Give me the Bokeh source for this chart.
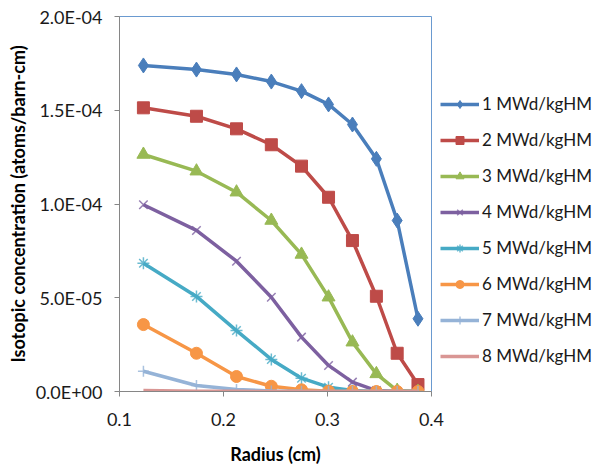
from bokeh.plotting import figure
from bokeh.models import FixedTicker, CustomJSTickFormatter, Legend, LegendItem, Range1d
from bokeh.embed import file_html
from bokeh.resources import INLINE

radius = [0.123, 0.174, 0.2125, 0.246, 0.275, 0.301, 0.324, 0.347, 0.367, 0.387]

s1 = [1.739e-4, 1.717e-4, 1.691e-4, 1.653e-4, 1.602e-4, 1.531e-4, 1.424e-4, 1.241e-4, 0.912e-4, 0.388e-4]
s2 = [1.513e-4, 1.468e-4, 1.401e-4, 1.316e-4, 1.202e-4, 1.036e-4, 0.805e-4, 0.508e-4, 0.204e-4, 0.037e-4]
s3 = [1.264e-4, 1.175e-4, 1.063e-4, 0.912e-4, 0.731e-4, 0.503e-4, 0.263e-4, 0.094e-4, 0.005e-4, 0.0]
s4 = [0.996e-4, 0.859e-4, 0.695e-4, 0.503e-4, 0.290e-4, 0.139e-4, 0.050e-4, 0.005e-4, 0.0, 0.0]
s5 = [0.684e-4, 0.507e-4, 0.325e-4, 0.171e-4, 0.071e-4, 0.023e-4, 0.005e-4, 0.0, 0.0, 0.0]
s6 = [0.357e-4, 0.204e-4, 0.080e-4, 0.028e-4, 0.009e-4, 0.002e-4, 0.0, 0.0, 0.0, 0.0]
s7 = [0.108e-4, 0.032e-4, 0.011e-4, 0.003e-4, 0.001e-4, 0.0, 0.0, 0.0, 0.0, 0.0]
s8 = [0.006e-4, 0.002e-4, 0.001e-4, 0.0, 0.0, 0.0, 0.0, 0.0, 0.0, 0.0]

labels = ["1 MWd/kgHM", "2 MWd/kgHM", "3 MWd/kgHM", "4 MWd/kgHM",
          "5 MWd/kgHM", "6 MWd/kgHM", "7 MWd/kgHM", "8 MWd/kgHM"]
series = [s1, s2, s3, s4, s5, s6, s7, s8]
colors = ["#4A7EBB", "#BE4B48", "#98B954", "#7D60A0", "#46AAC5", "#F79646", "#95B3D7", "#D99694"]
markers = ["diamond", "square", "triangle", "x", "asterisk", "circle", "cross", None]
msizes = [15, 12, 13, 12, 12, 12, 11, 0]

y_ticks = [0.0, 5e-5, 1e-4, 1.5e-4, 2e-4]
x_ticks = [0.1, 0.2, 0.3, 0.4]

FONT = "Lato"

p = figure(frame_width=312, frame_height=375, output_backend="svg", toolbar_location=None,
           x_range=Range1d(0.1, 0.4), y_range=Range1d(0, 2e-4),
           min_border_left=119, min_border_right=170, min_border_top=16, min_border_bottom=70)
p.xgrid.visible = False
p.ygrid.visible = False
p.outline_line_color = "#6A9AD0"
p.outline_line_width = 1
p.background_fill_color = "white"
p.border_fill_color = "white"

items = []
for ys, c, m, ms, lab in zip(series, colors, markers, msizes, labels):
    rs = []
    r = p.line(radius, ys, line_color=c, line_width=3.5)
    rs.append(r)
    if m is not None:
        if m in ("x", "asterisk", "cross"):
            sr = p.scatter(radius, ys, marker=m, size=ms, line_color=c, line_width=1.5,
                           line_alpha=0.8, fill_color=c)
        else:
            sr = p.scatter(radius, ys, marker=m, size=ms, line_color=c, fill_color=c, line_width=1)
        rs.append(sr)
    items.append(LegendItem(label=lab, renderers=rs))

fmt = CustomJSTickFormatter(code="""
let s = tick.toExponential(1);
let parts = s.split('e');
let e = parts[1];
let sign = e[0];
let d = e.slice(1);
if (d.length < 2) { d = '0' + d; }
return parts[0] + 'E' + sign + d;
""")

for ax in (p.xaxis[0], p.yaxis[0]):
    ax.axis_line_color = "#868686"
    ax.major_tick_line_color = "#868686"
    ax.minor_tick_line_color = None
    ax.major_tick_in = 0
    ax.major_tick_out = 5
    ax.major_label_text_font = FONT
    ax.major_label_text_font_size = "18px"
    ax.major_label_text_color = "#1a1a1a"
    ax.axis_label_text_font = FONT
    ax.axis_label_text_font_size = "18px"
    ax.axis_label_text_font_style = "bold"
    ax.axis_label_text_color = "#000000"

p.yaxis[0].ticker = FixedTicker(ticks=y_ticks)
p.yaxis[0].formatter = fmt
p.yaxis[0].axis_label = "Isotopic concentration (atoms/barn-cm)"
p.yaxis[0].major_label_standoff = 12
p.yaxis[0].axis_label_standoff = 4

p.xaxis[0].ticker = FixedTicker(ticks=x_ticks)
p.xaxis[0].axis_label = "Radius (cm)"
p.xaxis[0].major_label_standoff = 16
p.xaxis[0].axis_label_standoff = 14

legend = Legend(items=items, location=(9, 25), orientation="vertical")
legend.glyph_width = 39
legend.glyph_height = 20
legend.label_height = 20
legend.spacing = 15
legend.label_standoff = 3
legend.padding = 0
legend.margin = 0
legend.border_line_alpha = 0
legend.background_fill_alpha = 0
legend.label_text_font = FONT
legend.label_text_font_size = "17px"
legend.label_text_color = "#1a1a1a"
p.add_layout(legend, "right")

open("out.html", "w").write(file_html(p, INLINE))
